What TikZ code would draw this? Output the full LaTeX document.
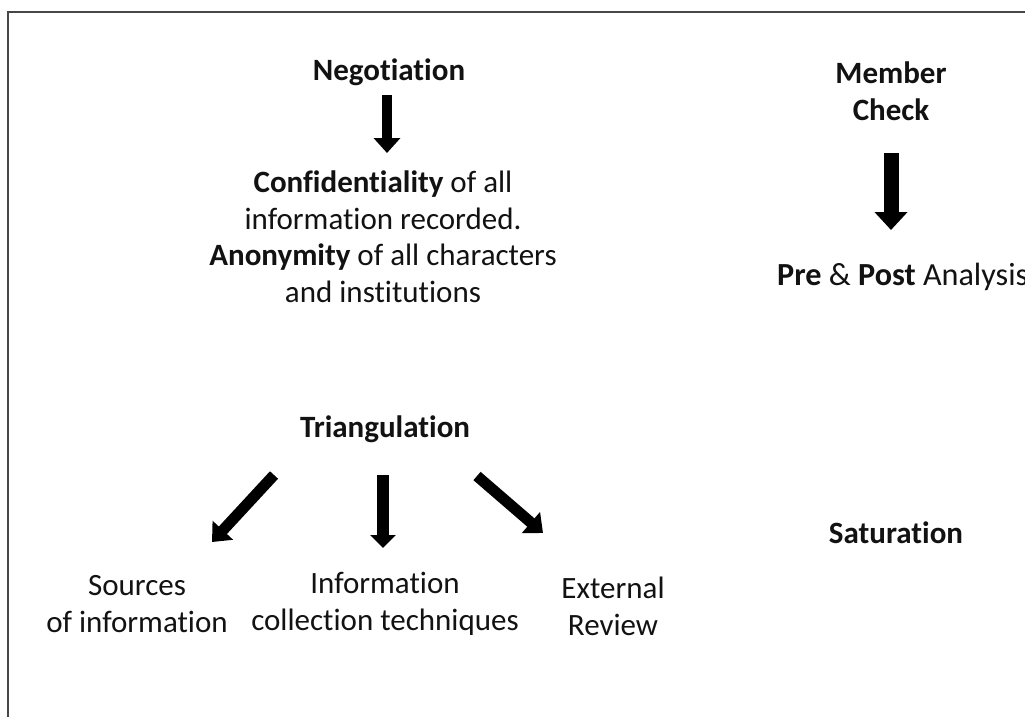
\documentclass[tikz,border=0pt]{standalone}
\usepackage{fontspec}
\setmainfont{Carlito}[Ligatures=NoCommon]
\usetikzlibrary{arrows.meta,calc}
\tikzset{
	lbl/.style={inner sep=0pt, align=center, text=black!93, font=\fontsize{31}{36.5}\selectfont},
	blk/.style n args={3}{line width=#1, draw=black, -{Triangle[width=#2,length=#3]}}
}

\begin{document}
\begin{tikzpicture}[x=1pt, y=-1pt]
			%%%%% START %%%%%
			\useasboundingbox (0, 0) rectangle (1025, 716);
			\clip (0, 0) rectangle (1025, 716);
			\fill[white] (0, 0) rectangle (1025, 716);
			
			\draw[line width=2.2pt, color=black!72] (8, 12) rectangle (1040, 730);
			
			% left column, top
			\node[lbl, anchor=base] (neg) at (389, 80) {\textbf{Negotiation}};
			\node[lbl, anchor=base] (conf) at (383, 302) {\textbf{Confidentiality} of all\\information recorded.\\\textbf{Anonymity} of all characters\\and institutions};
			\draw[blk={10pt}{26pt}{15pt}] ($(neg.base)+(-2, 15)$) -- ($(conf.base)+(4, -149)$);
			
			% right column
			\node[lbl, anchor=base] (mem) at (891, 120) {\textbf{Member}\\\textbf{Check}};
			\node[lbl, anchor=base west, font=\fontsize{32.2}{36.5}\selectfont] (pre) at (777, 285) {\textbf{Pre} \& \textbf{Post} Analysis};
			\draw[blk={15pt}{32pt}{18pt}] ($(mem.base)+(0, 33)$) -- ($(mem.base |- pre.base)+(0, -55)$);
			
			\node[lbl, anchor=base] (sat) at (896, 543) {\textbf{Saturation}};
			
			% left column, bottom
			\node[lbl, anchor=base] (tri) at (385, 437) {\textbf{Triangulation}};
			\node[lbl, anchor=base] (src) at (137, 632) {Sources\\of information};
			\node[lbl, anchor=base] (info) at (385, 630) {Information\\collection techniques};
			\node[lbl, anchor=base] (ext) at (613, 635) {External\\Review};
			
			\draw[blk={11pt}{27pt}{16pt}] ($(tri.base)+(-111, 38)$) -- ($(src.base)+(75, -90)$);
			\draw[blk={12pt}{25pt}{13pt}] ($(tri.base)+(-2, 38)$) -- ($(info.base)+(-2, -82)$);
			\draw[blk={11pt}{27pt}{16pt}] ($(tri.base)+(92, 39)$) -- ($(ext.base)+(-70, -102)$);
			%%%%% END %%%%%
		\end{tikzpicture}
\end{document}
